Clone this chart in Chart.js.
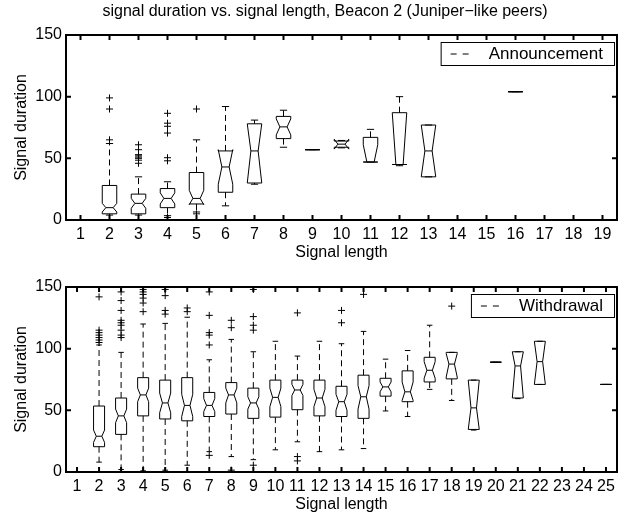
<!DOCTYPE html>
<html>
<head>
<meta charset="utf-8">
<title>signal duration vs. signal length</title>
<script src="https://cdn.jsdelivr.net/npm/chart.js@4.4.1/dist/chart.umd.min.js"></script>
<style>
  html, body { margin: 0; padding: 0; background: #fff; }
  #wrap { position: relative; width: 626px; height: 517px; }
  #wrap canvas { position: absolute; left: 0; }
</style>
</head>
<body>
<div id="wrap">
  <canvas id="annChart" width="626" height="264" style="top:0"></canvas>
  <canvas id="wdChart" width="626" height="253" style="top:264px"></canvas>
</div>
<script>
// Announcement: box stats per signal length
const annLength   = [2, 3, 4, 5, 6, 7, 8, 9, 10, 11, 12, 13, 16];
const annQ1       = [5, 5, 10, 13, 22.5, 30, 66, 57, 59, 47, 45, 35, 104];
const annMedian   = [10, 13.5, 17.5, 17.5, 43, 56, 75.5, 57, 61.5, 47, 45, 56, 104];
const annQ3       = [28, 21, 25.5, 38.5, 56, 78, 84, 57, 64, 67, 87, 77, 104];
const annNotchLo  = [6.5, 9.5, 13, 12.5, 29, 30, 69, 57, 57.5, 47, 45, 35, 104];
const annNotchHi  = [13.5, 17.5, 22, 24, 57, 78, 82, 57, 65.5, 61, 87, 77, 104];
const annWhiskLo  = [4, 4, 3.5, 6.5, 11.5, 29, 59, 57, 58.5, 47, 44, 35, 104];
const annWhiskHi  = [62, 35, 31, 65, 92, 81, 89, 57, 64.5, 73.5, 100, 77, 104];
const annOutliers = [
  [99, 90, 65], [61, 57, 53, 52, 51, 50, 48.5, 46], [86.5, 78.5, 76, 70.5, 50.5, 48, 2],
  [90, 5], [], [], [], [], [], [], [], [], []
];
const annTicks = [1, 2, 3, 4, 5, 6, 7, 8, 9, 10, 11, 12, 13, 14, 15, 16, 17, 18, 19];

// Withdrawal: box stats per signal length
const wdLength   = [2, 3, 4, 5, 6, 7, 8, 9, 10, 11, 12, 13, 14, 15, 16, 17, 18, 19, 20, 21, 22, 25];
const wdQ1       = [20.5, 30.5, 45.5, 43, 41.5, 45, 47, 43.5, 44.5, 50.5, 45.5, 45, 43.5, 61.5, 57, 73, 75.5, 34.5, 89, 60, 71, 71];
const wdMedian   = [29, 45.5, 62.5, 56, 54, 54, 62.5, 56, 60.5, 66.5, 60, 57, 61, 69, 65, 82.5, 87.5, 52, 89, 86, 89.5, 71];
const wdQ3       = [53.5, 60, 76.5, 74.5, 76.5, 64.5, 72.5, 68, 74.5, 74.5, 74.5, 69.5, 78.5, 76, 82, 93, 97, 74.5, 89, 97.5, 106, 71];
const wdNotchLo  = [24, 40, 57, 48, 45, 49, 56, 51, 53, 62, 53, 50, 51, 65, 58, 76, 77, 34.5, 89, 60, 71, 71];
const wdNotchHi  = [34, 51, 68, 64, 63, 59.5, 68, 61, 68, 71, 67, 63, 70, 73, 73, 89.5, 96, 74.5, 89, 97.5, 106, 71];
const wdWhiskLo  = [8, 2, 1, 1.5, 5.5, 16.5, 12.5, 10, 18, 24.5, 16.5, 18, 19, 49.5, 45, 67, 58, 34, 89, 59.5, 71, 71];
const wdWhiskHi  = [103, 97, 120, 120.5, 125.5, 91, 107.5, 97.5, 106, 94, 106, 104, 114, 91.5, 98.5, 119, 97, 74.5, 89, 97.5, 106, 71];
const wdOutliers = [
  [142, 115, 113, 111, 109, 107, 105],
  [146, 139, 131, 123, 121, 119, 115, 111, 109],
  [148, 146, 144, 141, 137, 130],
  [148, 143, 131, 128, 0.5],
  [133, 130],
  [146, 127, 113, 111, 103, 13.5],
  [123, 117, 1.5],
  [148, 126, 119, 115, 5.5],
  [], [129, 12.5, 9], [], [131, 121], [144],
  [], [], [], [134.5], [], [], [], [], []
];
const wdTicks = [1, 2, 3, 4, 5, 6, 7, 8, 9, 10, 11, 12, 13, 14, 15, 16, 17, 18, 19, 20, 21, 22, 23, 24, 25];

const yTicks = [0, 50, 100, 150];

const FONT = "'Liberation Sans', Arial, Helvetica, sans-serif";
Chart.defaults.font.family = FONT;
Chart.defaults.color = '#000';

// notched boxes, dashed whiskers and caps, drawn through the chart scales
function boxLayer(s) {
  return {
    id: 'boxLayer',
    afterDatasetsDraw(chart) {
      const { ctx, scales: { x, y } } = chart;
      const hw = x.getPixelForValue(1.25) - x.getPixelForValue(1);
      const nw = hw / 2;
      const py = v => y.getPixelForValue(v);
      ctx.save();
      ctx.strokeStyle = '#000';
      ctx.lineWidth = 1;
      s.pos.forEach((p, i) => {
        const cx = x.getPixelForValue(p);
        // whiskers
        ctx.setLineDash([6, 4]);
        ctx.beginPath();
        ctx.moveTo(cx, py(s.q3[i])); ctx.lineTo(cx, py(s.whi[i]));
        ctx.moveTo(cx, py(s.q1[i])); ctx.lineTo(cx, py(s.wlo[i]));
        ctx.stroke();
        ctx.setLineDash([]);
        ctx.beginPath();
        ctx.moveTo(cx - nw, py(s.whi[i])); ctx.lineTo(cx + nw, py(s.whi[i]));
        ctx.moveTo(cx - nw, py(s.wlo[i])); ctx.lineTo(cx + nw, py(s.wlo[i]));
        ctx.stroke();
        // notched box
        ctx.beginPath();
        ctx.moveTo(cx - hw, py(s.q1[i]));
        ctx.lineTo(cx - hw, py(s.nlo[i]));
        ctx.lineTo(cx - nw, py(s.med[i]));
        ctx.lineTo(cx - hw, py(s.nhi[i]));
        ctx.lineTo(cx - hw, py(s.q3[i]));
        ctx.lineTo(cx + hw, py(s.q3[i]));
        ctx.lineTo(cx + hw, py(s.nhi[i]));
        ctx.lineTo(cx + nw, py(s.med[i]));
        ctx.lineTo(cx + hw, py(s.nlo[i]));
        ctx.lineTo(cx + hw, py(s.q1[i]));
        ctx.closePath();
        ctx.stroke();
        ctx.beginPath();
        ctx.moveTo(cx - nw, py(s.med[i])); ctx.lineTo(cx + nw, py(s.med[i]));
        ctx.stroke();
      });
      ctx.restore();
    }
  };
}

// axes frame with inward ticks, legend and optional title
function frameLayer(legendText, title) {
  return {
    id: 'frameLayer',
    afterDraw(chart) {
      const { ctx, chartArea: a, scales: { x, y } } = chart;
      ctx.save();
      ctx.strokeStyle = '#000';
      ctx.lineWidth = 2;
      ctx.strokeRect(a.left, a.top, a.right - a.left, a.bottom - a.top);
      ctx.beginPath();
      x.ticks.forEach(t => {
        const px = x.getPixelForValue(t.value);
        ctx.moveTo(px, a.bottom); ctx.lineTo(px, a.bottom - 5);
        ctx.moveTo(px, a.top); ctx.lineTo(px, a.top + 5);
      });
      y.ticks.forEach(t => {
        const py = y.getPixelForValue(t.value);
        ctx.moveTo(a.left, py); ctx.lineTo(a.left + 5, py);
        ctx.moveTo(a.right, py); ctx.lineTo(a.right - 5, py);
      });
      ctx.stroke();

      // legend
      ctx.font = '17px ' + FONT;
      const tw = ctx.measureText(legendText).width;
      const bw = 48 + tw + 11, bh = 23;
      const bx = a.right - 3 - bw, by = a.top + 7;
      ctx.fillStyle = '#fff';
      ctx.fillRect(bx, by, bw, bh);
      ctx.lineWidth = 1;
      ctx.strokeRect(bx + 0.5, by + 0.5, bw, bh);
      ctx.setLineDash([6, 6]);
      ctx.beginPath();
      ctx.moveTo(bx + 10, by + bh / 2 + 0.5);
      ctx.lineTo(bx + 34, by + bh / 2 + 0.5);
      ctx.stroke();
      ctx.setLineDash([]);
      ctx.fillStyle = '#000';
      ctx.textAlign = 'left';
      ctx.textBaseline = 'middle';
      ctx.fillText(legendText, bx + 48, by + bh / 2 + 1);

      if (title) {
        ctx.font = '16px ' + FONT;
        ctx.textAlign = 'center';
        ctx.fillText(title, 325, 12);
      }
      ctx.restore();
    }
  };
}

function makeChart(id, p) {
  const stats = {
    pos: p.pos, q1: p.q1, med: p.med, q3: p.q3,
    nlo: p.nlo, nhi: p.nhi, wlo: p.wlo, whi: p.whi
  };
  const outPts = [];
  p.pos.forEach((x, i) => p.out[i].forEach(v => outPts.push({ x: x, y: v })));

  return new Chart(document.getElementById(id), {
    type: 'scatter',
    data: {
      datasets: [{
        data: outPts,
        pointStyle: 'cross',
        pointRadius: 3.5,
        borderColor: '#000',
        borderWidth: 1,
        backgroundColor: '#000'
      }]
    },
    options: {
      responsive: false,
      animation: false,
      events: [],
      layout: { padding: { top: p.padTop, right: 9, left: 0, bottom: 0 } },
      plugins: { legend: { display: false }, tooltip: { enabled: false } },
      scales: {
        x: {
          type: 'linear',
          min: 0.5,
          max: p.ticks.length + 0.5,
          afterBuildTicks: sc => { sc.ticks = p.ticks.map(v => ({ value: v })); },
          afterFit: sc => { sc.height = p.xHeight; },
          grid: { display: false, drawTicks: false },
          border: { display: false },
          ticks: {
            color: '#000', font: { size: 16 }, padding: 5,
            autoSkip: false, maxRotation: 0, callback: v => String(v)
          },
          title: {
            display: true, text: 'Signal length', color: '#000',
            font: { size: 16 }, padding: { top: 0, bottom: p.xTitlePad }
          }
        },
        y: {
          min: 0,
          max: 150,
          afterBuildTicks: sc => { sc.ticks = yTicks.map(v => ({ value: v })); },
          afterFit: sc => { sc.width = 66; },
          grid: { display: false, drawTicks: false },
          border: { display: false },
          ticks: { color: '#000', font: { size: 16 }, padding: 4, callback: v => String(v) },
          title: {
            display: true, text: 'Signal duration', color: '#000',
            font: { size: 16 }, padding: { top: 12, bottom: 0 }
          }
        }
      }
    },
    plugins: [boxLayer(stats), frameLayer(p.legend, p.title)]
  });
}

makeChart('annChart', {
  pos: annLength, q1: annQ1, med: annMedian, q3: annQ3,
  nlo: annNotchLo, nhi: annNotchHi, wlo: annWhiskLo, whi: annWhiskHi,
  out: annOutliers, ticks: annTicks,
  padTop: 35, xHeight: 44, xTitlePad: 1.4,
  legend: 'Announcement',
  title: 'signal duration vs. signal length, Beacon 2 (Juniper\u2212like peers)'
});

makeChart('wdChart', {
  pos: wdLength, q1: wdQ1, med: wdMedian, q3: wdQ3,
  nlo: wdNotchLo, nhi: wdNotchHi, wlo: wdWhiskLo, whi: wdWhiskHi,
  out: wdOutliers, ticks: wdTicks,
  padTop: 23, xHeight: 45, xTitlePad: 2.4,
  legend: 'Withdrawal',
  title: null
});
</script>
</body>
</html>
